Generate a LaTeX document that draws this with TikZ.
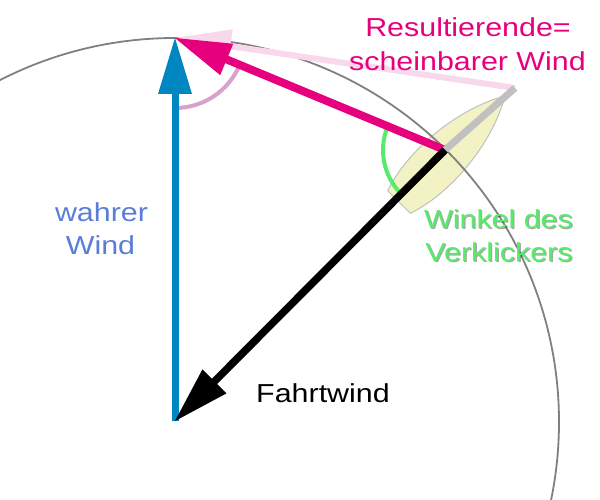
\documentclass[tikz,border=0pt]{standalone}
\usepackage{fontspec}
\setmainfont{Liberation Sans}
\usetikzlibrary{calc}
\definecolor{pinkc}{RGB}{230,0,126}
\definecolor{bluec}{RGB}{0,134,192}
\definecolor{bluetext}{RGB}{90,125,215}
\definecolor{greenc}{RGB}{85,236,105}
\definecolor{purplec}{RGB}{215,160,205}
\definecolor{fadepink}{RGB}{250,216,235}
\definecolor{boatfill}{RGB}{242,242,196}
\definecolor{vanec}{RGB}{192,192,192}
\definecolor{circlec}{RGB}{128,128,128}
\newcommand{\vecarrow}[4]{%
  \coordinate (hb) at ($(#4)!56pt!(#3)$);
  \coordinate (hs) at ($(#4)!50pt!(#3)$);
  \draw[#1, line width=#2] (#3) -- (hs);
  \fill[#1] (#4) -- ($(hb)!17pt!90:(#3)$) -- ($(hb)!17pt!-90:(#3)$) -- cycle;
}
\begin{document}
\begin{tikzpicture}[x=1pt,y=-1pt,
  lbl/.style={font=\fontsize{26}{30}\selectfont, inner sep=0pt, anchor=base},
  shadowlbl/.style={lbl, text=black, opacity=0.35}]
\useasboundingbox (0,0) rectangle (600,500);
\clip (0,0) rectangle (600,500);
\coordinate (top) at (175,38);
\coordinate (boat) at (445,150);
\coordinate (origin) at (175,421);
\coordinate (vane) at (515,88);
\coordinate (center) at (175,422);

% boat hull
\begin{scope}[shift={(399,202)}, rotate=45]
\filldraw[fill=boatfill, draw=vanec, line width=1] (0,-16) .. controls (40,-30) and (105,-26) .. (150,0) .. controls (105,26) and (40,30) .. (0,16) -- cycle;
\end{scope}

% circle
\draw[circlec, line width=1.8] (center) circle[radius=384];

% faded apparent wind at the vane
\vecarrow{fadepink}{6}{vane}{top}

% angle arcs
\draw[purplec, line width=4] (top) ++(90:70) arc[start angle=90, end angle=22.5, radius=70];
\draw[greenc, line width=4] (boat) ++(135:62) arc[start angle=135, end angle=202.5, radius=62];

% true wind
\vecarrow{bluec}{7}{origin}{top}
% resulting wind
\vecarrow{pinkc}{8}{boat}{top}
% vane
\draw[vanec, line width=7] (boat) -- (vane);
% boat speed wind
\vecarrow{black}{7.5}{boat}{origin}

% labels
\node[lbl, text=pinkc] (res1) at (468,37) {\scalebox{1.17}[1]{Resultierende=}};
\node[lbl, text=pinkc] (res2) at (467.5,71) {\scalebox{1.17}[1]{scheinbarer Wind}};
\node[lbl, text=bluetext] (wahr1) at (101.5,222) {\scalebox{1.17}[1]{wahrer}};
\node[lbl, text=bluetext] (wahr2) at (100.5,254) {\scalebox{1.17}[1]{Wind}};
\node[shadowlbl] at (499.7,229.2) {\scalebox{1.17}[1]{Winkel des}};
\node[shadowlbl] at (500.2,262.2) {\scalebox{1.17}[1]{Verklickers}};
\node[lbl, text=greenc] (wink1) at (498.5,228) {\scalebox{1.17}[1]{Winkel des}};
\node[lbl, text=greenc] (wink2) at (499,261) {\scalebox{1.17}[1]{Verklickers}};
\node[lbl, text=black] (fahrt) at (323,402) {\scalebox{1.17}[1]{Fahrtwind}};
\end{tikzpicture}
\end{document}
